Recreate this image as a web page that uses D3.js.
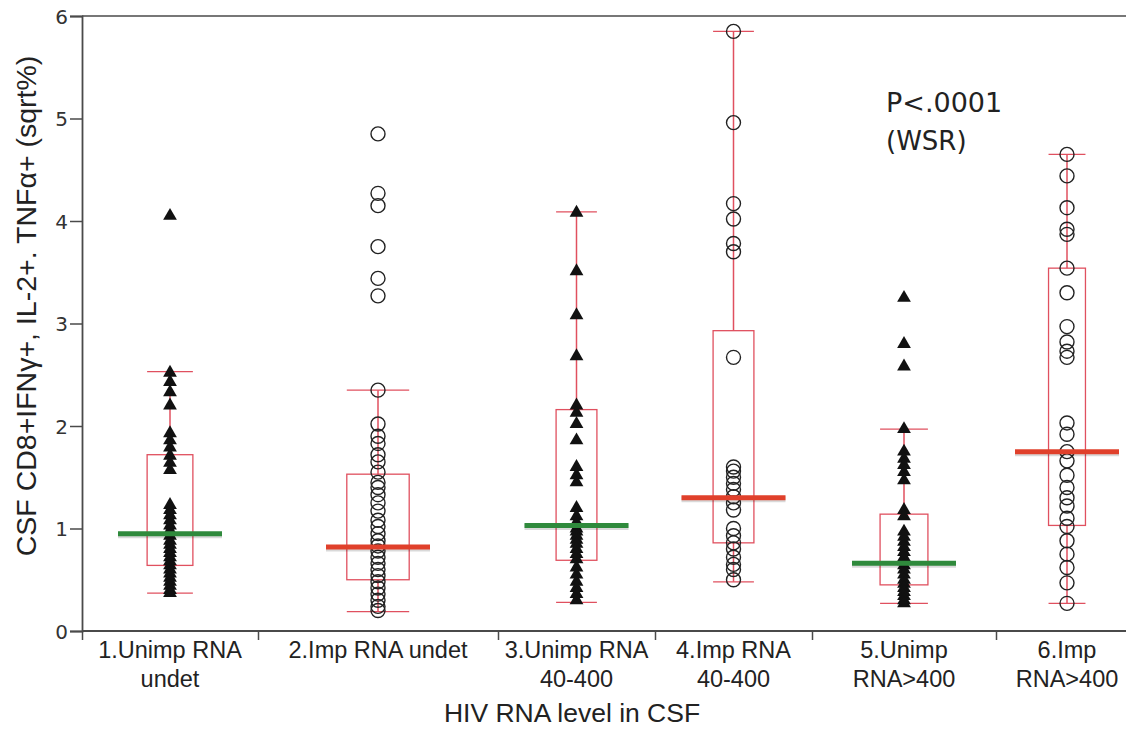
<!DOCTYPE html>
<html>
<head>
<meta charset="utf-8">
<script src="https://cdn.jsdelivr.net/npm/d3@7"></script>
<style>
  html, body { margin: 0; padding: 0; background: #fff; }
  svg { display: block; }
</style>
</head>
<body>
<svg id="chart" width="1126" height="734"></svg>
<script>
// ---------------- DATA ----------------
const categoryLines = [
  ["1.Unimp RNA", "undet"],
  ["2.Imp RNA undet"],
  ["3.Unimp RNA", "40-400"],
  ["4.Imp RNA", "40-400"],
  ["5.Unimp", "RNA>400"],
  ["6.Imp", "RNA>400"]
];
const improved = [false, true, false, true, false, true];

// relative group widths on the x axis
const groupShares = [176, 240, 157, 157, 184, 142];

const q1        = [0.64, 0.50, 0.69, 0.86, 0.45, 1.03];
const median    = [0.95, 0.82, 1.03, 1.30, 0.66, 1.75];
const q3        = [1.72, 1.53, 2.16, 2.93, 1.14, 3.54];
const whiskerLo = [0.37, 0.19, 0.28, 0.48, 0.27, 0.27];
const whiskerHi = [2.53, 2.35, 4.09, 5.85, 1.97, 4.65];

const g1 = [4.05, 2.52, 2.43, 2.33, 2.20, 1.93, 1.86, 1.79, 1.71, 1.64, 1.57, 1.23, 1.18, 1.13, 1.08, 1.03, 0.98,
            0.93, 0.88, 0.84, 0.80, 0.76, 0.72, 0.68, 0.64, 0.60, 0.56, 0.52, 0.48, 0.44, 0.40, 0.37];
const g2 = [4.85, 4.27, 4.15, 3.75, 3.44, 3.27, 2.35, 2.02, 1.90, 1.83, 1.72, 1.65, 1.55, 1.45, 1.40, 1.33, 1.25,
            1.17, 1.08, 1.02, 0.95, 0.88, 0.83, 0.78, 0.72, 0.66, 0.60, 0.54, 0.48, 0.42, 0.36, 0.30, 0.24, 0.20];
const g3 = [4.08, 3.51, 3.08, 2.68, 2.20, 2.13, 2.02, 1.86, 1.60, 1.52, 1.45, 1.20, 1.12, 1.06, 1.00, 0.97, 0.93,
            0.89, 0.85, 0.80, 0.75, 0.70, 0.62, 0.55, 0.48, 0.42, 0.36, 0.30];
const g4 = [5.85, 4.96, 4.17, 4.02, 3.78, 3.70, 2.67, 1.60, 1.56, 1.50, 1.44, 1.38, 1.31, 1.25, 1.18, 1.00, 0.93,
            0.86, 0.80, 0.72, 0.65, 0.60, 0.50];
const g5 = [3.25, 2.80, 2.58, 1.97, 1.75, 1.68, 1.62, 1.55, 1.47, 1.18, 1.12, 0.97, 0.92, 0.87, 0.82, 0.77, 0.72,
            0.68, 0.64, 0.60, 0.55, 0.50, 0.46, 0.42, 0.38, 0.34, 0.30, 0.27];
const g6 = [4.65, 4.44, 4.13, 3.92, 3.87, 3.54, 3.30, 2.97, 2.82, 2.73, 2.67, 2.03, 1.92, 1.75, 1.66, 1.52, 1.40,
            1.30, 1.22, 1.10, 1.02, 0.88, 0.75, 0.62, 0.47, 0.27];
const groupValues = [g1, g2, g3, g4, g5, g6];

const yTicks = [0, 1, 2, 3, 4, 5, 6];
const yTitle = "CSF CD8+IFNγ+, IL-2+. TNFα+ (sqrt%)";
const xTitle = "HIV RNA level in CSF";
const annotation = ["P<.0001", "(WSR)"];

// ---------------- LAYOUT ----------------
const svg = d3.select("#chart");
const plotLeft = 82, plotTop = 16, plotBottom = 631;
const totalShare = d3.sum(groupShares);
const x = d3.scaleLinear().domain([0, totalShare]).range([plotLeft, plotLeft + totalShare]);
const y = d3.scaleLinear().domain([0, 6]).range([plotBottom, plotTop]);

const bounds = [0];
groupShares.forEach(s => bounds.push(bounds[bounds.length - 1] + s));
const centers = groupShares.map((s, i) => x(bounds[i] + s / 2));
const boxHalf = groupShares.map(s => (x(s) - x(0)) * 0.13);

const axisColor = "#4a4a4a";
const boxColor = "#e0505f";
const green = "#2f8a3c";
const red = "#e0402b";
const labelFont = "'Liberation Sans', Arial, sans-serif";
const tickFont = "'DejaVu Sans', Verdana, sans-serif";

// frame: top border
svg.append("line")
  .attr("x1", plotLeft).attr("x2", 1126)
  .attr("y1", plotTop).attr("y2", plotTop)
  .attr("stroke", axisColor).attr("stroke-width", 1.6);

// y axis
const yAxis = d3.axisLeft(y).tickValues(yTicks).tickSize(12).tickFormat(d3.format("d"));
const gy = svg.append("g").attr("transform", `translate(${plotLeft},0)`).call(yAxis);
gy.select(".domain").attr("stroke", axisColor).attr("stroke-width", 1.8);
gy.selectAll(".tick line").attr("stroke", axisColor).attr("stroke-width", 1.5);
gy.selectAll(".tick text")
  .attr("font-family", tickFont).attr("font-size", 20).attr("fill", "#333")
  .attr("x", -14).attr("dy", "0.36em");

// x axis (group boundaries)
const xAxis = d3.axisBottom(x).tickValues(bounds.slice(0, -1)).tickSize(9).tickFormat("");
const gx = svg.append("g").attr("transform", `translate(0,${plotBottom})`).call(xAxis);
gx.select(".domain").attr("d", `M${plotLeft},0H1126`).attr("stroke", axisColor).attr("stroke-width", 1.8);
gx.selectAll(".tick line").attr("stroke", axisColor).attr("stroke-width", 1.5);

// category labels
categoryLines.forEach((lines, i) => {
  const t = svg.append("text")
    .attr("text-anchor", "middle")
    .attr("font-family", labelFont).attr("font-size", 23.5).attr("fill", "#222");
  lines.forEach((ln, k) => {
    t.append("tspan").attr("x", centers[i]).attr("y", 658 + k * 29).text(ln);
  });
});

// axis titles
svg.append("text")
  .attr("x", 572).attr("y", 722)
  .attr("text-anchor", "middle")
  .attr("font-family", labelFont).attr("font-size", 26.5).attr("fill", "#222")
  .text(xTitle);

svg.append("text")
  .attr("transform", `translate(36,306) rotate(-90)`)
  .attr("text-anchor", "middle")
  .attr("font-family", labelFont).attr("font-size", 28.5).attr("fill", "#222")
  .text(yTitle);

// annotation
svg.append("text")
  .attr("x", 886).attr("y", 112)
  .attr("font-family", tickFont).attr("font-size", 27).attr("fill", "#222")
  .text(annotation[0]);
svg.append("text")
  .attr("x", 886).attr("y", 150)
  .attr("font-family", tickFont).attr("font-size", 26).attr("fill", "#222")
  .text(annotation[1]);

// boxes and whiskers
const groups = svg.append("g");
groupValues.forEach((vals, i) => {
  const cx = centers[i], hw = boxHalf[i];
  const g = groups.append("g");
  g.append("line").attr("x1", cx).attr("x2", cx).attr("y1", y(q3[i])).attr("y2", y(whiskerHi[i]))
    .attr("stroke", boxColor).attr("stroke-width", 1.5);
  g.append("line").attr("x1", cx).attr("x2", cx).attr("y1", y(q1[i])).attr("y2", y(whiskerLo[i]))
    .attr("stroke", boxColor).attr("stroke-width", 1.5);
  [whiskerHi[i], whiskerLo[i]].forEach(v => {
    g.append("line").attr("x1", cx - hw).attr("x2", cx + hw).attr("y1", y(v)).attr("y2", y(v))
      .attr("stroke", boxColor).attr("stroke-width", 1.3);
  });
  g.append("rect")
    .attr("x", cx - hw).attr("width", 2 * hw)
    .attr("y", y(q3[i])).attr("height", y(q1[i]) - y(q3[i]))
    .attr("fill", "none").attr("stroke", boxColor).attr("stroke-width", 1.3);

  if (improved[i]) {
    g.selectAll("circle.pt").data(vals).join("circle")
      .attr("class", "pt")
      .attr("cx", cx).attr("cy", d => y(d)).attr("r", 7)
      .attr("fill", "none").attr("stroke", "#222").attr("stroke-width", 1.4);
  } else {
    const tri = d3.symbol().type(d3.symbolTriangle).size(82);
    g.selectAll("path.pt").data(vals).join("path")
      .attr("class", "pt")
      .attr("transform", d => `translate(${cx},${y(d)})`)
      .attr("d", tri)
      .attr("fill", "#111");
  }
});

// median lines (drawn on top)
const medHalf = 52;
median.forEach((m, i) => {
  const cx = centers[i];
  svg.append("line")
    .attr("x1", cx - medHalf).attr("x2", cx + medHalf)
    .attr("y1", y(m) + 1.5).attr("y2", y(m) + 1.5)
    .attr("stroke", "#000").attr("stroke-opacity", 0.15).attr("stroke-width", 6);
  svg.append("line")
    .attr("x1", cx - medHalf).attr("x2", cx + medHalf)
    .attr("y1", y(m)).attr("y2", y(m))
    .attr("stroke", improved[i] ? red : green).attr("stroke-width", 5);
});
</script>
</body>
</html>
